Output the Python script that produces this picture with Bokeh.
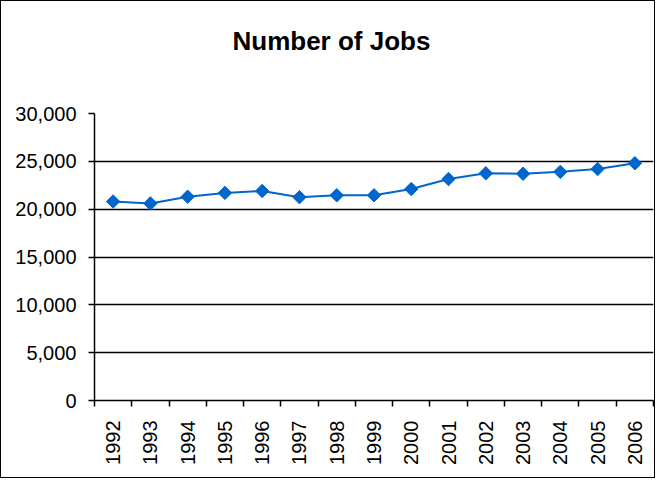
import numpy as np
from bokeh.plotting import figure
from bokeh.models import Range1d, FixedTicker, NumeralTickFormatter, ColumnDataSource, Title
from bokeh.embed import file_html
from bokeh.resources import INLINE

years = ["1992", "1993", "1994", "1995", "1996", "1997", "1998", "1999",
         "2000", "2001", "2002", "2003", "2004", "2005", "2006"]
jobs = [20800, 20600, 21300, 21700, 21900, 21250, 21450, 21450,
        22100, 23150, 23750, 23700, 23900, 24200, 24800]
y_ticks = [0, 5000, 10000, 15000, 20000, 25000, 30000]
title_text = "Number of Jobs"

idx = np.arange(len(years))
src = ColumnDataSource(dict(x=idx + 0.5, y=jobs))

p = figure(width=655, height=478, output_backend="svg", toolbar_location=None,
           title_location=None,
           x_range=Range1d(0, len(years)), y_range=Range1d(0, 30000),
           min_border_left=93, min_border_right=3, min_border_top=0, min_border_bottom=79)
p.styles = {"border": "1px solid black", "box-sizing": "border-box"}
p.outline_line_color = None
p.background_fill_color = "white"
p.border_fill_color = "white"

FONT = "Liberation Sans"
spacer = Title(text=" ", standoff=33, text_font_size="1px", text_color="white")
p.add_layout(spacer, "above")
title = Title(text=title_text, align="left", offset=138, standoff=44,
              text_font=FONT, text_font_style="bold", text_font_size="26px",
              text_color="black")
p.add_layout(title, "above")

# y axis
p.yaxis.ticker = FixedTicker(ticks=y_ticks)
p.yaxis.formatter = NumeralTickFormatter(format="0,0")
p.yaxis.major_label_text_font = FONT
p.yaxis.major_label_text_font_size = "20px"
p.yaxis.major_label_text_color = "black"
p.yaxis.axis_line_color = "black"
p.yaxis.axis_line_width = 1.5
p.yaxis.major_tick_line_color = "black"
p.yaxis.major_tick_line_width = 1.5
p.yaxis.major_tick_out = 6
p.yaxis.major_tick_in = 0
p.yaxis.minor_tick_line_color = None
p.yaxis.major_label_standoff = 12

# x axis
p.xaxis.ticker = FixedTicker(ticks=list(idx + 0.5), minor_ticks=list(range(len(years) + 1)))
p.xaxis.major_label_overrides = {float(i + 0.5): y for i, y in enumerate(years)}
p.xaxis.major_label_orientation = np.pi / 2
p.xaxis.major_label_text_font = FONT
p.xaxis.major_label_text_font_size = "20px"
p.xaxis.major_label_text_color = "black"
p.xaxis.axis_line_color = "black"
p.xaxis.axis_line_width = 1.5
p.xaxis.major_tick_line_color = None
p.xaxis.major_tick_out = 0
p.xaxis.major_tick_in = 0
p.xaxis.minor_tick_line_color = "black"
p.xaxis.minor_tick_line_width = 1.5
p.xaxis.minor_tick_out = 6
p.xaxis.minor_tick_in = 0
p.xaxis.major_label_standoff = 14

p.xgrid.grid_line_color = None
p.ygrid.ticker = FixedTicker(ticks=y_ticks)
p.ygrid.grid_line_color = "black"
p.ygrid.grid_line_width = 1.5

blue = "#0066CC"
p.line("x", "y", source=src, line_color=blue, line_width=2)
p.scatter("x", "y", source=src, marker="square", size=9.5, angle=np.pi / 4,
          fill_color=blue, line_color=blue)

open("out.html", "w").write(file_html(p, INLINE))
